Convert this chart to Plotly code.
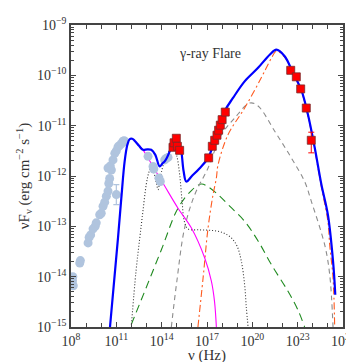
import numpy as np
import plotly.graph_objects as go

# all values are log10(nu [Hz]) and log10(nuFnu [erg cm^-2 s^-1])
radio_lognu = [8.10, 8.15, 8.12, 8.58, 8.62, 9.13, 9.20, 9.30, 9.46, 9.60, 9.67, 9.90, 10.00,
               10.12, 10.23, 10.34, 10.45, 10.50, 10.56, 10.67, 10.45, 10.60, 10.78, 10.90, 11.00,
               11.11, 11.20, 11.33, 11.44, 11.52, 11.56, 13.10, 13.43, 13.48, 13.82, 13.91, 14.20,
               14.30, 14.42]
radio_logf = [-14.08, -14.18, -14.00, -13.73, -13.68, -13.33, -13.22, -13.17, -13.05, -13.00, -12.93,
              -12.77, -12.74, -12.60, -12.52, -12.40, -12.30, -12.15, -12.05, -11.88, -11.84, -11.80,
              -11.68, -11.55, -11.50, -11.42, -11.40, -11.36, -11.31, -11.30, -11.32, -11.61, -11.81,
              -11.86, -12.04, -12.11, -11.68, -11.65, -11.63]
radio_err_lognu = [11.0]
radio_err_logf = [-12.37]
radio_err_hi = [-12.17]
radio_err_lo = [-12.57]

uvot_lognu = [14.75, 14.82, 14.97, 15.04, 15.19]
uvot_logf = [-11.43, -11.34, -11.25, -11.41, -11.49]
xray_lognu = [17.11, 17.35, 17.51, 17.66, 17.77, 17.88, 18.00, 18.21]
xray_logf = [-11.64, -11.41, -11.29, -11.19, -11.09, -10.99, -10.88, -10.73]
fermi_lognu = [22.54, 22.91, 23.20, 23.57, 23.90]
fermi_logf = [-9.90, -10.03, -10.27, -10.65, -11.29]
fermi_hi = [-9.90, -10.03, -10.27, -10.65, -11.13]
fermi_lo = [-9.90, -10.03, -10.27, -10.65, -11.54]

total_lognu = [10.58, 11.11, 11.33, 11.55, 11.73, 11.88, 12.05, 12.21, 12.50, 12.76, 13.05, 13.31,
               13.58, 13.87, 14.05, 14.20, 14.53, 14.75, 14.97, 15.15, 15.30, 15.45, 15.63, 16.00,
               16.50, 17.07, 17.60, 18.17, 18.72, 19.49, 20.38, 21.15, 21.59, 22.14, 22.69, 23.24,
               23.68, 24.13, 24.57, 25.00, 25.34, 25.49]
total_logf = [-15.0, -13.23, -12.44, -11.71, -11.38, -11.27, -11.26, -11.30, -11.40, -11.48, -11.47,
              -11.48, -11.58, -11.81, -11.75, -11.71, -11.51, -11.28, -11.23, -11.35, -11.51, -11.90,
              -12.11, -12.00, -11.85, -11.64, -11.20, -10.71, -10.45, -10.12, -9.85, -9.59, -9.49,
              -9.62, -9.95, -10.29, -10.78, -11.44, -12.17, -12.77, -13.69, -14.36]

sync_lognu = [12.20, 12.76, 13.50, 14.20, 15.08, 15.96, 16.85, 17.29, 17.50, 17.62]
sync_logf = [-11.30, -11.48, -11.85, -12.20, -12.64, -13.03, -13.63, -14.09, -14.50, -15.0]

thermal_lognu = [12.00, 12.30, 12.55, 12.76, 12.98, 13.14, 13.30, 13.50, 13.65, 13.76, 13.85, 14.00,
                 14.20, 14.50, 14.80, 15.00, 15.20, 15.35, 15.50, 15.74, 16.50, 17.27, 18.00, 18.61,
                 19.00, 19.27, 19.49, 19.60, 19.72]
thermal_logf = [-14.95, -13.90, -13.23, -12.70, -12.17, -11.94, -11.82, -11.95, -12.14, -12.27, -12.15,
                -11.90, -11.70, -11.50, -11.45, -11.60, -12.00, -12.50, -12.90, -13.05, -13.07, -13.08,
                -13.12, -13.23, -13.40, -13.69, -14.16, -14.60, -15.0]

ssc_lognu = [14.64, 15.00, 15.52, 16.19, 17.07, 17.95, 18.83, 19.83, 20.38, 21.48, 22.58, 23.46,
             23.90, 24.79, 25.12, 25.34]
ssc_logf = [-15.0, -14.10, -13.03, -12.37, -11.84, -11.18, -10.85, -10.55, -10.61, -11.11, -11.64,
            -12.11, -12.50, -13.37, -13.96, -15.0]

ec_lognu = [16.40, 16.74, 17.07, 17.40, 17.62, 17.73, 18.39, 19.49, 20.59, 21.26, 21.59, 22.14,
            22.69, 23.24, 23.68, 24.13, 24.57, 25.00, 25.12, 25.34, 25.45]
ec_logf = [-15.0, -14.03, -13.03, -12.37, -12.04, -11.78, -11.18, -10.65, -10.05, -9.66, -9.52,
           -9.64, -9.97, -10.31, -10.81, -11.48, -12.22, -12.90, -13.37, -14.03, -15.0]

ic_lognu = [11.99, 13.00, 14.00, 15.08, 16.00, 16.62, 17.00, 17.73, 18.50, 19.49, 20.40, 21.26,
            22.36, 23.00, 23.46]
ic_logf = [-14.95, -14.20, -13.45, -12.64, -12.28, -12.16, -12.20, -12.37, -12.60, -12.90, -13.30,
           -13.76, -14.29, -14.65, -15.0]

SERIF = 'Liberation Serif, Times New Roman, serif'


def lin(a):
    return 10.0 ** np.array(a, dtype=float)


fig = go.Figure()

# model components
fig.add_trace(go.Scatter(x=lin(ic_lognu), y=lin(ic_logf), mode='lines', line_shape='spline',
                         line=dict(color='#1f8a1f', width=1.1, dash='8px,5px')))
fig.add_trace(go.Scatter(x=lin(ssc_lognu), y=lin(ssc_logf), mode='lines', line_shape='spline',
                         line=dict(color='#8c8c8c', width=1.1, dash='5px,4px')))
fig.add_trace(go.Scatter(x=lin(ec_lognu), y=lin(ec_logf), mode='lines', line_shape='spline',
                         line=dict(color='#ff5a1f', width=1.1, dash='7px,3px,2px,3px')))
fig.add_trace(go.Scatter(x=lin(thermal_lognu), y=lin(thermal_logf), mode='lines', line_shape='spline',
                         line=dict(color='#333333', width=1.1, dash='1px,2px')))
fig.add_trace(go.Scatter(x=lin(sync_lognu), y=lin(sync_logf), mode='lines', line_shape='spline',
                         line=dict(color='#ff00ff', width=1.1)))

# archival radio-IR points
fig.add_trace(go.Scatter(x=lin(radio_lognu), y=lin(radio_logf), mode='markers',
                         marker=dict(color='#b0c4de', size=9, line=dict(width=0))))
ey = lin(radio_err_logf)
fig.add_trace(go.Scatter(x=lin(radio_err_lognu), y=ey, mode='markers',
                         marker=dict(color='#b0c4de', size=9, line=dict(width=0)),
                         error_y=dict(type='data', symmetric=False, array=lin(radio_err_hi) - ey,
                                      arrayminus=ey - lin(radio_err_lo), color='#b0c4de',
                                      thickness=1.2, width=3)))

# total model
fig.add_trace(go.Scatter(x=lin(total_lognu), y=lin(total_logf), mode='lines', line_shape='spline',
                         line=dict(color='#0000ff', width=2.2)))

# flare data
sq = dict(symbol='square', color='#ff0000', size=8, line=dict(color='#7a2a2a', width=0.8))
fig.add_trace(go.Scatter(x=lin(uvot_lognu), y=lin(uvot_logf), mode='markers', marker=sq))
fig.add_trace(go.Scatter(x=lin(xray_lognu), y=lin(xray_logf), mode='markers', marker=sq))
fy = lin(fermi_logf)
fig.add_trace(go.Scatter(x=lin(fermi_lognu), y=fy, mode='markers', marker=sq,
                         error_y=dict(type='data', symmetric=False, array=lin(fermi_hi) - fy,
                                      arrayminus=fy - lin(fermi_lo), color='#ff0000',
                                      thickness=1, width=3)))

xt = [10.0 ** p for p in range(8, 27, 3)]
xtt = ['10<sup>%d</sup>' % p for p in range(8, 27, 3)]
yt = [10.0 ** p for p in range(-15, -8)]
ytt = ['10<sup>\u2212%d</sup>' % -p for p in range(-15, -8)]
yminor = [m * 10.0 ** p for p in range(-15, -9) for m in range(2, 10)]
xminor = [10.0 ** p for p in range(8, 27)]

axis_common = dict(type='log', showline=True, linecolor='#444444', linewidth=1.5, mirror='ticks',
                   ticks='inside', ticklen=5, tickwidth=1, tickcolor='#444444', showgrid=False,
                   zeroline=False, automargin=False,
                   tickfont=dict(family=SERIF, size=14, color='#333333'))

fig.update_layout(
    template='none',
    width=354, height=362,
    margin=dict(l=63, r=19, t=17, b=43),
    plot_bgcolor='white', paper_bgcolor='white',
    showlegend=False,
    font=dict(family=SERIF, color='#333333'),
    xaxis=dict(range=[8, 26], tickvals=xt, ticktext=xtt,
               minor=dict(tickmode='array', tickvals=xminor, ticks='inside', ticklen=4,
                          tickcolor='#444444'),
               **axis_common),
    yaxis=dict(range=[-15, -9], tickvals=yt, ticktext=ytt,
               minor=dict(tickmode='array', tickvals=yminor, ticks='inside', ticklen=3,
                          tickcolor='#444444'),
               title=dict(text='\u03bdF<sub>\u03bd</sub> (erg cm<sup>\u22122</sup> s<sup>\u22121</sup>)',
                          font=dict(size=15), standoff=4),
               **axis_common),
    annotations=[
        dict(text='\u03b3-ray Flare', x=0.51, y=0.907, xref='paper', yref='paper',
             xanchor='center', yanchor='middle', showarrow=False,
             font=dict(family=SERIF, size=14, color='#333333')),
        dict(text='\u03bd (Hz)', x=0.5, y=-0.093, xref='paper', yref='paper',
             xanchor='center', yanchor='middle', showarrow=False,
             font=dict(family=SERIF, size=15, color='#333333')),
    ],
)

fig.write_html("out.html")
